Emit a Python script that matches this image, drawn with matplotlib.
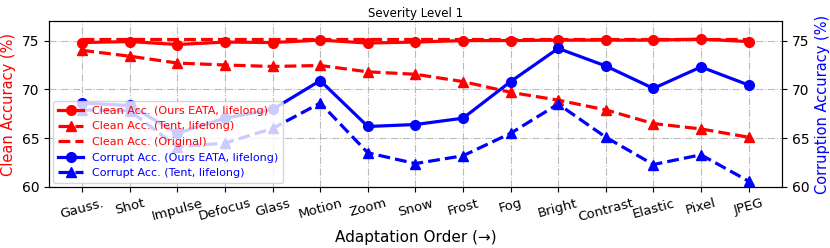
import numpy as np
import matplotlib
matplotlib.use('Agg')
import matplotlib.pyplot as plt

corruptions = ['Gauss.', 'Shot', 'Impulse', 'Defocus', 'Glass', 'Motion', 'Zoom', 'Snow',
               'Frost', 'Fog', 'Bright', 'Contrast', 'Elastic', 'Pixel', 'JPEG']

clean_eata = [74.8, 74.9, 74.6, 74.85, 74.8, 75.05, 74.75, 74.85, 75.0, 75.0, 75.05, 75.05, 75.05, 75.15, 74.9]
clean_tent = [74.0, 73.4, 72.7, 72.5, 72.35, 72.45, 71.8, 71.55, 70.8, 69.7, 68.9, 67.9, 66.5, 65.95, 65.1]
clean_orig = [75.2] * 15
corrupt_eata = [68.6, 68.35, 65.5, 67.05, 67.95, 70.9, 66.2, 66.4, 67.05, 70.8, 74.2, 72.4, 70.1, 72.3, 70.45]
corrupt_tent = [67.9, 67.8, 64.1, 64.5, 66.0, 68.6, 63.5, 62.4, 63.2, 65.5, 68.5, 65.1, 62.3, 63.3, 60.6]

x = np.arange(len(corruptions))

fig = plt.figure(figsize=(8.3, 2.48), dpi=100)
ax = fig.add_axes([0.059, 0.246, 0.883, 0.669])
ax2 = ax.twinx()

lw = 2.3
ms = 7
l1, = ax.plot(x, clean_eata, '-o', color='red', lw=lw, ms=ms, label='Clean Acc. (Ours EATA, lifelong)')
l2, = ax.plot(x, clean_tent, '--^', color='red', lw=lw, ms=ms, label='Clean Acc. (Tent, lifelong)')
l3, = ax.plot(x, clean_orig, '--', color='red', lw=lw, label='Clean Acc. (Original)')
l4, = ax2.plot(x, corrupt_eata, '-o', color='blue', lw=lw, ms=ms, label='Corrupt Acc. (Ours EATA, lifelong)')
l5, = ax2.plot(x, corrupt_tent, '--^', color='blue', lw=lw, ms=ms, label='Corrupt Acc. (Tent, lifelong)')

for a in (ax, ax2):
    a.set_ylim(60, 77)
    a.set_yticks([60, 65, 70, 75])
    a.tick_params(axis='y', labelsize=10)
ax.set_xlim(-0.7, 14.7)
ax.set_xticks(x)
ax.set_xticklabels(corruptions, rotation=15, fontsize=9.5)
ax.grid(True, linestyle='-.', color='#bbbbbb', lw=0.8)

ax.set_ylabel('Clean Accuracy (%)', color='red', fontsize=10.5)
ax2.set_ylabel('Corruption Accuracy (%)', color='blue', fontsize=10.5)
ax.set_xlabel('Adaptation Order (→)', fontsize=11)
ax.set_title('Severity Level 1', fontsize=8.5, pad=3)

leg = ax2.legend(handles=[l1, l2, l3, l4, l5], loc='lower left', fontsize=8,
                 framealpha=0.8, labelspacing=0.5, handlelength=2.3, borderaxespad=0.4)
for t, c in zip(leg.get_texts(), ['red', 'red', 'red', 'blue', 'blue']):
    t.set_color(c)

fig.savefig('out.png', dpi=100)
